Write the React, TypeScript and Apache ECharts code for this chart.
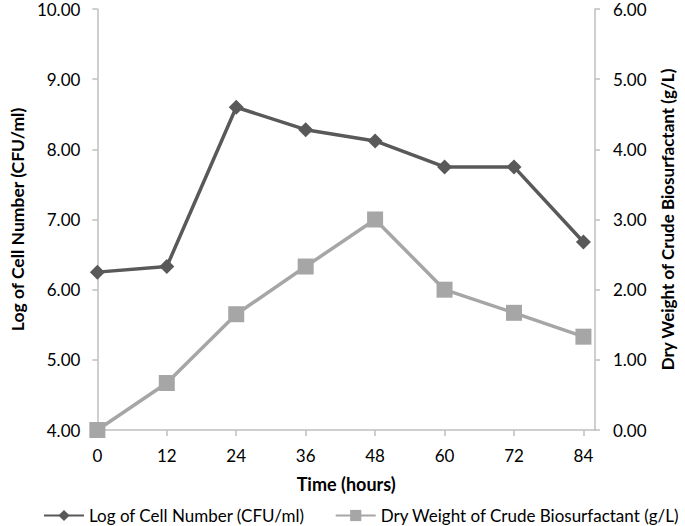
import React, { useEffect, useRef } from "react";
import * as echarts from "echarts";

const hours = [0, 12, 24, 36, 48, 60, 72, 84];
const logCells = [6.25, 6.33, 8.6, 8.28, 8.12, 7.75, 7.75, 6.68];
const dryWeight = [0, 0.67, 1.65, 2.33, 3.0, 2.0, 1.67, 1.33];
const seriesNames = ["Log of Cell Number (CFU/ml)", "Dry Weight of Crude Biosurfactant (g/L)"];

const FONT = "Lato";
const AXIS = "#bfbfbf";

export default function App() {
  const ref = useRef<HTMLDivElement>(null);
  useEffect(() => {
    document.body.style.margin = "0";
    if (!ref.current) return;
    const chart = echarts.init(ref.current, null, { renderer: "svg" });
    chart.setOption({
      animation: false,
      textStyle: { fontFamily: FONT },
      grid: { left: 89, right: 90, top: 9, bottom: 96, containLabel: false },
      legend: {
        top: 507,
        left: 43,
        width: 642,
        padding: 0,
        itemWidth: 40,
        itemHeight: 14,
        itemGap: 30,
        textStyle: { fontFamily: FONT, fontSize: 17, color: "#000" },
        data: seriesNames,
      },
      xAxis: {
        type: "value",
        min: 0,
        max: 86,
        interval: 12,
        name: "Time (hours)",
        nameLocation: "middle",
        nameGap: 45,
        nameTextStyle: { fontFamily: FONT, fontSize: 18, fontWeight: "bold", color: "#000" },
        axisLine: { show: true, lineStyle: { color: AXIS, width: 1.5 } },
        axisTick: { show: true, length: 6, lineStyle: { color: AXIS, width: 1.5 }, customValues: hours },
        axisLabel: { margin: 17, fontSize: 17, color: "#000", customValues: hours },
        splitLine: { show: false },
      },
      yAxis: [
        {
          type: "value",
          min: 4,
          max: 10,
          interval: 1,
          name: seriesNames[0],
          nameLocation: "middle",
          nameGap: 66,
          nameTextStyle: { fontFamily: FONT, fontSize: 17.5, fontWeight: "bold", color: "#000" },
          axisLine: { show: true, lineStyle: { color: AXIS, width: 1.5 } },
          axisTick: { show: true, length: 5, lineStyle: { color: AXIS, width: 1.5 } },
          axisLabel: { margin: 17, fontSize: 17, color: "#000", formatter: (v: number) => v.toFixed(2) },
          splitLine: { show: false },
        },
        {
          type: "value",
          min: 0,
          max: 6,
          interval: 1,
          position: "right",
          name: seriesNames[1],
          nameLocation: "middle",
          nameGap: 64,
          nameRotate: 90,
          nameTextStyle: { fontFamily: FONT, fontSize: 17, fontWeight: "bold", color: "#000" },
          axisLine: { show: true, lineStyle: { color: AXIS, width: 1.5 } },
          axisTick: { show: true, length: 5, lineStyle: { color: AXIS, width: 1.5 } },
          axisLabel: { margin: 18, fontSize: 17, color: "#000", formatter: (v: number) => v.toFixed(2) },
          splitLine: { show: false },
        },
      ],
      series: [
        {
          name: seriesNames[0],
          type: "line",
          yAxisIndex: 0,
          data: hours.map((h, i) => [h, logCells[i]]),
          symbol: "diamond",
          symbolSize: 15,
          lineStyle: { color: "#595959", width: 3.5 },
          itemStyle: { color: "#595959" },
          z: 3,
        },
        {
          name: seriesNames[1],
          type: "line",
          yAxisIndex: 1,
          data: hours.map((h, i) => [h, dryWeight[i]]),
          symbol: "rect",
          symbolSize: 16,
          lineStyle: { color: "#a6a6a6", width: 3.5 },
          itemStyle: { color: "#a6a6a6" },
          z: 2,
        },
      ],
    });
    return () => chart.dispose();
  }, []);
  return <div ref={ref} style={{ width: 685, height: 526 }} />;
}
